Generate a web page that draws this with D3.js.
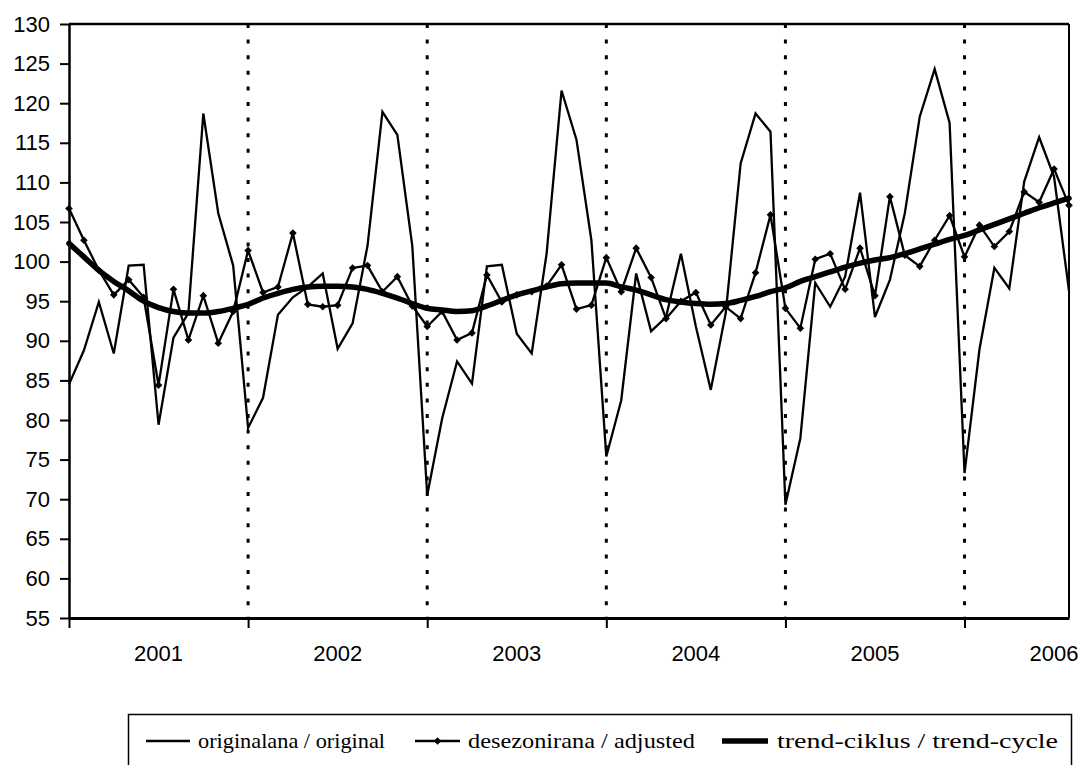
<!DOCTYPE html>
<html><head><meta charset="utf-8">
<script src="https://cdnjs.cloudflare.com/ajax/libs/d3/7.8.5/d3.min.js"></script>
<style>html,body{margin:0;padding:0;background:#fff;}svg{display:block;}</style>
</head><body>
<svg id="chart" width="1084" height="765"></svg>
<script>
const yearLabels = ["2001","2002","2003","2004","2005","2006"];
const yTicks = [55,60,65,70,75,80,85,90,95,100,105,110,115,120,125,130];
const original = [
  84.5, 88.8, 94.9, 88.4, 99.5, 99.6, 79.4, 90.4, 93.5, 118.7, 106.1, 99.5,
  79.0, 82.8, 93.3, 95.5, 96.8, 98.5, 89.0, 92.2, 102.0, 118.9, 116.0, 102.0,
  70.5, 80.2, 87.4, 84.6, 99.4, 99.6, 90.9, 88.4, 101.0, 121.6, 115.4, 102.7,
  75.4, 82.5, 98.5, 91.2, 93.0, 101.0, 91.8, 83.8, 93.5, 112.4, 118.7, 116.4,
  69.3, 77.7, 97.3, 94.3, 98.1, 108.7, 93.0, 97.7, 106.1, 118.3, 124.3, 117.5,
  73.3, 88.9, 99.2, 96.6, 110.1, 115.7, 110.7, 96.3
];
const adjusted = [
  106.7, 102.7, 98.9, 95.8, 97.7, 95.5, 84.4, 96.5, 90.1, 95.7, 89.7, 93.7,
  101.4, 96.1, 96.8, 103.6, 94.6, 94.3, 94.5, 99.2, 99.5, 96.2, 98.1, 94.4,
  91.8, 93.7, 90.1, 91.0, 98.3, 94.9, 95.8, 96.2, 96.9, 99.6, 94.0, 94.5,
  100.5, 96.2, 101.7, 98.0, 92.8, 95.0, 96.1, 92.0, 94.3, 92.8, 98.6, 105.9,
  94.1, 91.6, 100.3, 101.0, 96.5, 101.7, 95.7, 108.2, 100.8, 99.4, 102.7, 105.8,
  100.6, 104.6, 101.9, 103.8, 108.8, 107.5, 111.7, 107.1
];
const trend = [
  102.3, 100.6, 98.9, 97.5, 96.3, 95.0, 94.2, 93.7, 93.5, 93.5, 93.7, 94.1,
  94.6, 95.4, 96.0, 96.5, 96.8, 96.9, 96.9, 96.8, 96.5, 96.0, 95.4, 94.7,
  94.1, 93.9, 93.7, 93.8, 94.4, 95.1, 95.8, 96.3, 96.8, 97.2, 97.3, 97.3,
  97.3, 96.8, 96.4, 95.8, 95.2, 94.9, 94.7, 94.6, 94.7, 95.1, 95.6, 96.2,
  96.7, 97.5, 98.1, 98.7, 99.3, 99.8, 100.2, 100.5, 101.0, 101.6, 102.2, 102.8,
  103.3, 104.0, 104.7, 105.4, 106.1, 106.8, 107.4, 108.0
];
const legendLabels = ["originalana / original", "desezonirana / adjusted", "trend-ciklus / trend-cycle"];

const svg = d3.select("#chart");
const L = 69, R = 1069, T = 24, B = 618;
const n = original.length;
const x = d3.scaleLinear().domain([0, n - 1]).range([L, R]);
const y = d3.scaleLinear().domain([55, 130]).range([B, T]);
const janIdx = yearLabels.map((d, i) => i * 12);
const midIdx = yearLabels.map((d, i) => i * 12 + 6);
const sans = "'Liberation Sans', Arial, sans-serif";

// dotted year separators
svg.append("g").selectAll("line").data(janIdx.slice(1)).join("line")
  .attr("x1", d => x(d)).attr("x2", d => x(d))
  .attr("y1", T).attr("y2", B)
  .attr("stroke", "#000").attr("stroke-width", 3)
  .attr("stroke-dasharray", "4,11.6");

// frame top/right
svg.append("line").attr("x1", L).attr("x2", R).attr("y1", T).attr("y2", T)
  .attr("stroke", "#000").attr("stroke-width", 2.5);
svg.append("line").attr("x1", R).attr("x2", R).attr("y1", T).attr("y2", B)
  .attr("stroke", "#000").attr("stroke-width", 2);

// y axis
const yAxis = svg.append("g").attr("transform", `translate(${L},0)`)
  .call(d3.axisLeft(y).tickValues(yTicks).tickSize(9).tickPadding(10).tickSizeOuter(0));
yAxis.select(".domain").attr("stroke-width", 2.5);
yAxis.selectAll(".tick line").attr("stroke-width", 2);
yAxis.selectAll("text").attr("font-family", sans)
  .attr("font-size", 22).attr("fill", "#000");

// x axis
const xAxis = svg.append("g").attr("transform", `translate(0,${B})`)
  .call(d3.axisBottom(x).tickValues(janIdx).tickSize(10).tickFormat("").tickSizeOuter(0));
xAxis.select(".domain").attr("stroke-width", 3);
xAxis.selectAll(".tick line").attr("stroke-width", 2);
svg.append("g").selectAll("text").data(midIdx).join("text")
  .attr("x", d => x(d)).attr("y", 661)
  .attr("text-anchor", "middle")
  .attr("font-family", sans)
  .attr("font-size", 22).attr("fill", "#000")
  .text((d, i) => yearLabels[i]);

const line = d3.line().x((d, i) => x(i)).y(d => y(d));
const smooth = d3.line().x((d, i) => x(i)).y(d => y(d)).curve(d3.curveMonotoneX);

svg.append("path").datum(original).attr("d", line)
  .attr("fill", "none").attr("stroke", "#000").attr("stroke-width", 2.3);
svg.append("path").datum(adjusted).attr("d", line)
  .attr("fill", "none").attr("stroke", "#000").attr("stroke-width", 2.3);
const dia = r => `M0,${-r}L${r},0L0,${r}L${-r},0Z`;
svg.append("g").selectAll("path").data(adjusted).join("path")
  .attr("transform", (d, i) => `translate(${x(i)},${y(d)})`)
  .attr("d", dia(3.8)).attr("fill", "#000");
svg.append("path").datum(trend).attr("d", smooth)
  .attr("fill", "none").attr("stroke", "#000").attr("stroke-width", 5.5).attr("stroke-linecap", "round");

// legend
const lg = svg.append("g");
lg.append("rect").attr("x", 128.5).attr("y", 714.5).attr("width", 943).attr("height", 70)
  .attr("fill", "none").attr("stroke", "#000").attr("stroke-width", 1.5);
const ly = 741;
const items = [
  {x0: 146, x1: 190, tx: 198, len: 187, w: 2.3, marker: false},
  {x0: 415, x1: 460, tx: 468, len: 227, w: 2.3, marker: true},
  {x0: 722, x1: 768, tx: 777, len: 281, w: 5.5, marker: false}
];
items.forEach((it, i) => {
  lg.append("line").attr("x1", it.x0).attr("x2", it.x1).attr("y1", ly).attr("y2", ly)
    .attr("stroke", "#000").attr("stroke-width", it.w);
  if (it.marker) lg.append("path").attr("transform", `translate(${(it.x0 + it.x1) / 2},${ly})`)
    .attr("d", dia(3.8)).attr("fill", "#000");
  lg.append("text").attr("x", it.tx).attr("y", ly).attr("dy", "0.33em")
    .attr("font-family", "'Liberation Serif', 'Times New Roman', serif")
    .attr("font-size", 22).attr("fill", "#000")
    .attr("textLength", it.len).attr("lengthAdjust", "spacingAndGlyphs")
    .text(legendLabels[i]);
});
</script>
</body></html>
